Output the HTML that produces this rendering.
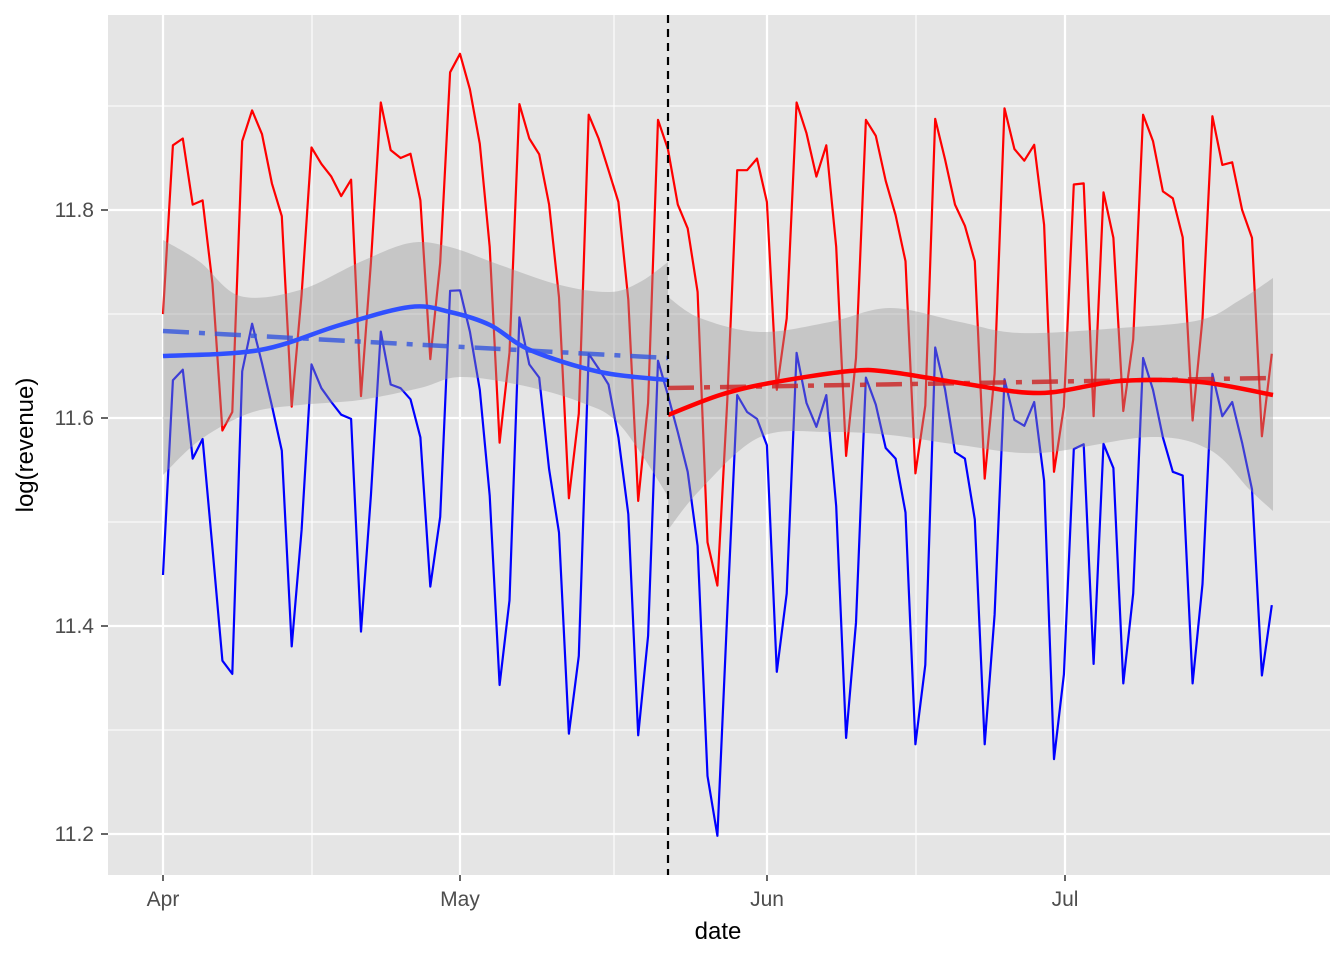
<!DOCTYPE html>
<html><head><meta charset="utf-8"><style>
html,body{margin:0;padding:0;background:#fff;}
svg{display:block;font-family:"Liberation Sans",sans-serif;}
</style></head><body>
<svg id="s" width="1344" height="960" viewBox="0 0 1344 960" xmlns="http://www.w3.org/2000/svg">
<rect x="108" y="15" width="1222" height="860" fill="#E5E5E5"/>
<g stroke="#fff" stroke-width="1.1">
<line x1="108" x2="1330" y1="106" y2="106"/><line x1="108" x2="1330" y1="314" y2="314"/>
<line x1="108" x2="1330" y1="522" y2="522"/><line x1="108" x2="1330" y1="730" y2="730"/>
<line y1="15" y2="875" x1="312" x2="312"/><line y1="15" y2="875" x1="614" x2="614"/><line y1="15" y2="875" x1="916" x2="916"/>
</g>
<g stroke="#fff" stroke-width="2.2">
<line x1="108" x2="1330" y1="210" y2="210"/><line x1="108" x2="1330" y1="418" y2="418"/>
<line x1="108" x2="1330" y1="626" y2="626"/><line x1="108" x2="1330" y1="834" y2="834"/>
<line y1="15" y2="875" x1="163" x2="163"/><line y1="15" y2="875" x1="460" x2="460"/>
<line y1="15" y2="875" x1="767" x2="767"/><line y1="15" y2="875" x1="1065" x2="1065"/>
</g>
<g id="data"></g>
<line x1="668" x2="668" y1="15" y2="875" stroke="#000" stroke-width="2.2" stroke-dasharray="8,6"/>
<g stroke="#333" stroke-width="1.5">
<line x1="163" x2="163" y1="875" y2="881"/><line x1="460" x2="460" y1="875" y2="881"/>
<line x1="767" x2="767" y1="875" y2="881"/><line x1="1065" x2="1065" y1="875" y2="881"/>
<line x1="101" x2="108" y1="210" y2="210"/><line x1="101" x2="108" y1="418" y2="418"/>
<line x1="101" x2="108" y1="626" y2="626"/><line x1="101" x2="108" y1="834" y2="834"/>
</g>
<g fill="#4D4D4D" font-size="21" text-anchor="end">
<text x="94" y="217">11.8</text><text x="94" y="425">11.6</text><text x="94" y="633">11.4</text><text x="94" y="841">11.2</text>
</g>
<g fill="#4D4D4D" font-size="21" text-anchor="middle">
<text x="163" y="906">Apr</text><text x="460" y="906">May</text><text x="767" y="906">Jun</text><text x="1065" y="906">Jul</text>
</g>
<text x="718" y="939" font-size="24" text-anchor="middle" fill="#000">date</text>
<text transform="translate(33,445) rotate(-90)" font-size="24" text-anchor="middle" fill="#000">log(revenue)</text>
</svg>
<script>
var R=[537,218,205,330,322,480,757,722,210,152,197,290,352,712,500,222,253,277,314,283,692,440,137,227,242,234,322,622,440,80,45,112,215,410,780,610,140,205,235,330,505,885,725,160,205,265,325,510,890,705,170,225,330,375,495,968,1050,700,265,265,243,325,680,545,137,195,277,218,410,805,620,170,200,285,350,437,838,710,168,245,330,370,437,848,650,148,225,247,217,368,835,712,292,290,730,307,393,720,585,160,210,305,318,392,738,545,163,255,250,340,393,768,612];
var B=[1030,662,642,810,773,980,1192,1217,645,555,630,710,795,1165,945,632,677,703,727,735,1137,880,570,670,677,698,770,1052,920,493,492,570,680,880,1238,1078,543,632,657,830,950,1330,1183,612,640,670,770,915,1333,1145,625,690,760,835,975,1410,1523,1100,690,722,735,785,1213,1065,610,705,750,690,900,1338,1120,657,708,790,810,912,1350,1200,600,680,798,810,925,1350,1105,660,737,748,703,852,1378,1218,792,783,1198,782,828,1235,1065,620,680,770,835,842,1235,1047,650,730,703,780,868,1220,1087];
function pts(a){return a.map(function(Y,d){return (163+9.9*d).toFixed(1)+","+(30+Y/1.89).toFixed(1)}).join(" ");}
function sm(p){var s="M"+p[0][0]+","+p[0][1];for(var i=0;i<p.length-1;i++){var p0=p[i-1]||p[i],p1=p[i],p2=p[i+1],p3=p[i+2]||p2;s+=" C"+(p1[0]+(p2[0]-p0[0])/6)+","+(p1[1]+(p2[1]-p0[1])/6)+" "+(p2[0]-(p3[0]-p1[0])/6)+","+(p2[1]-(p3[1]-p1[1])/6)+" "+p2[0]+","+p2[1];}return s;}
function rib(u,l){var s=sm(u);var lr=l.slice().reverse();s+=" L"+lr[0][0]+","+lr[0][1]+sm(lr).replace(/^M[^ ]*/,"")+" Z";return s;}
var g='';
g+='<polyline points="'+pts(R)+'" fill="none" stroke="#FF0000" stroke-width="2.2" stroke-linejoin="round"/>';
g+='<polyline points="'+pts(B)+'" fill="none" stroke="#0000FF" stroke-width="2.2" stroke-linejoin="round"/>';
var u1=[[163,240],[200,262],[240,296],[300,290],[360,262],[410,243],[450,247],[500,265],[560,285],[610,292],[640,282],[668,262]];
var l1=[[163,475],[200,440],[250,413],[300,405],[360,400],[420,388],[460,377],[520,385],[580,402],[620,425],[668,496]];
var u2=[[668,297],[700,318],[760,332],[830,322],[890,308],[960,322],[1020,333],[1120,328],[1200,320],[1240,300],[1273,278]];
var l2=[[668,530],[700,490],[760,437],[830,432],[890,435],[960,445],[1040,453],[1150,437],[1210,450],[1250,490],[1273,511]];
g+='<path d="'+rib(u1,l1)+'" fill="rgba(153,153,153,0.4)"/>';
g+='<path d="'+rib(u2,l2)+'" fill="rgba(153,153,153,0.4)"/>';
g+='<line x1="163" y1="331" x2="668" y2="358" stroke="#3355DD" stroke-opacity="0.8" stroke-width="4.5" stroke-dasharray="26,10,6,10"/>';
g+='<line x1="668" y1="388" x2="1273" y2="378" stroke="#CC2222" stroke-opacity="0.8" stroke-width="4.5" stroke-dasharray="26,10,6,10"/>';
g+='<path d="'+sm([[163,356],[260,350],[340,325],[410,307],[450,312],[490,325],[530,350],[600,372],[668,380]])+'" fill="none" stroke="#3050FF" stroke-width="4.5"/>';
g+='<path d="'+sm([[668,415],[720,395],[770,383],[850,371],[890,372],[960,383],[1040,393],[1120,381],[1200,382],[1273,395]])+'" fill="none" stroke="#FF0000" stroke-width="4.5"/>';
document.getElementById('data').innerHTML=g;
</script>
</body></html>
